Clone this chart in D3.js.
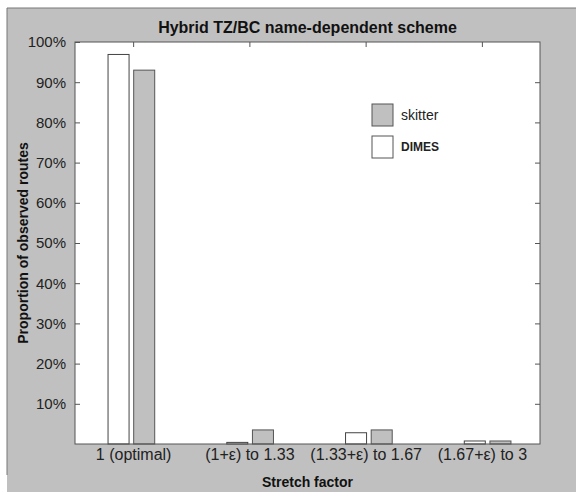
<!DOCTYPE html>
<html>
<head>
<meta charset="utf-8">
<script src="https://cdn.jsdelivr.net/npm/d3@7"></script>
<style>
  body { margin: 0; background: #fff; }
  text { font-family: Arial, "Liberation Sans", sans-serif; }
</style>
</head>
<body>
<svg id="chart" width="576" height="492"></svg>
<script>
const categories = ['1 (optimal)', '(1+\u03b5) to 1.33', '(1.33+\u03b5) to 1.67', '(1.67+\u03b5) to 3']
const skitter = [93.0, 3.5, 3.5, 0.75]
const dimes = [96.9, 0.4, 2.8, 0.75]
const yTickValues = [10, 20, 30, 40, 50, 60, 70, 80, 90, 100]

const svg = d3.select('#chart')
const plotLeft = 75, plotRight = 540, plotTop = 42, plotBottom = 444
const grey = '#c0c0c0'
const edge = '#555'

// figure background
svg.append('rect')
  .attr('x', 7).attr('y', 8).attr('width', 569).attr('height', 484)
  .attr('fill', grey)
svg.append('path')
  .attr('d', 'M7,475 V8 H576')
  .attr('fill', 'none').attr('stroke', '#777').attr('stroke-width', 1)

// plot area
svg.append('rect')
  .attr('x', plotLeft).attr('y', plotTop)
  .attr('width', plotRight - plotLeft).attr('height', plotBottom - plotTop)
  .attr('fill', '#fff')

const x = d3.scaleLinear().domain([0.5, 4.5]).range([plotLeft, plotRight])
// bars sit slightly off the tick positions in the original
const xBar = d3.scaleLinear().domain([0.5, 4.5]).range([72, 547])
const y = d3.scaleLinear().domain([0, 100]).range([plotBottom, plotTop])

const barW = xBar(1.177) - xBar(1)
const shift = xBar(1.108) - xBar(1)

svg.selectAll('rect.dimes')
  .data(dimes)
  .enter()
  .append('rect')
    .attr('class', 'dimes')
    .attr('x', (d, i) => xBar(i + 1) - shift - barW / 2)
    .attr('y', d => y(d))
    .attr('width', barW)
    .attr('height', d => y(0) - y(d))
    .attr('fill', '#fff')
    .attr('stroke', '#444')
    .attr('stroke-width', 1)

svg.selectAll('rect.skitter')
  .data(skitter)
  .enter()
  .append('rect')
    .attr('class', 'skitter')
    .attr('x', (d, i) => xBar(i + 1) + shift - barW / 2)
    .attr('y', d => y(d))
    .attr('width', barW)
    .attr('height', d => y(0) - y(d))
    .attr('fill', grey)
    .attr('stroke', '#555')
    .attr('stroke-width', 1)

// y axis (ticks point inward), labels on the left
const yAxis = d3.axisLeft(y)
  .tickValues(yTickValues)
  .tickSize(-5)
  .tickPadding(9)
  .tickFormat(d => d + '%')
const gy = svg.append('g')
  .attr('transform', `translate(${plotLeft}, 0)`)
  .call(yAxis)
gy.selectAll('text').style('font-size', '15px').attr('fill', '#222')

// right side ticks
svg.append('g')
  .attr('transform', `translate(${plotRight}, 0)`)
  .call(d3.axisRight(y).tickValues(yTickValues.slice(0, -1)).tickSize(-5).tickFormat(''))

// top ticks
svg.append('g')
  .attr('transform', `translate(0, ${plotTop})`)
  .call(d3.axisTop(x).tickValues([1, 2, 3, 4]).tickSize(-5).tickFormat(''))

// category labels
const gx = svg.append('g')
  .attr('transform', `translate(0, ${plotBottom})`)
  .call(d3.axisBottom(x).tickValues([1, 2, 3, 4]).tickSize(0).tickPadding(5)
    .tickFormat(d => categories[d - 1]))
gx.selectAll('text').style('font-size', '16px').attr('fill', '#222')

svg.selectAll('path.domain').style('stroke-width', 0)
svg.selectAll('.tick line').attr('stroke', edge)

// plot frame
svg.append('rect')
  .attr('x', plotLeft).attr('y', plotTop)
  .attr('width', plotRight - plotLeft).attr('height', plotBottom - plotTop)
  .attr('fill', 'none').attr('stroke', edge).attr('stroke-width', 1)

// titles
svg.append('text')
  .attr('x', (plotLeft + plotRight) / 2).attr('y', 33)
  .attr('text-anchor', 'middle')
  .style('font-size', '16px').style('font-weight', 'bold')
  .attr('fill', '#111')
  .text('Hybrid TZ/BC name-dependent scheme')

svg.append('text')
  .attr('x', (plotLeft + plotRight) / 2).attr('y', 487)
  .attr('text-anchor', 'middle')
  .style('font-size', '14px').style('font-weight', 'bold')
  .attr('fill', '#111')
  .text('Stretch factor')

svg.append('text')
  .attr('transform', `translate(28, ${(plotTop + plotBottom) / 2}) rotate(-90)`)
  .attr('text-anchor', 'middle')
  .style('font-size', '14px').style('font-weight', 'bold')
  .attr('fill', '#111')
  .text('Proportion of observed routes')

// legend
const legend = [
  { name: 'skitter', fill: grey, y: 104, weight: 'normal', size: '14px' },
  { name: 'DIMES', fill: '#fff', y: 136, weight: 'bold', size: '12px' }
]
const lg = svg.selectAll('g.legend')
  .data(legend)
  .enter()
  .append('g')
    .attr('class', 'legend')
    .attr('transform', d => `translate(372, ${d.y})`)
lg.append('rect')
  .attr('width', 21).attr('height', 22)
  .attr('fill', d => d.fill)
  .attr('stroke', '#555')
lg.append('text')
  .attr('x', 29).attr('y', 11)
  .attr('dy', '0.35em')
  .style('font-size', d => d.size)
  .style('font-weight', d => d.weight)
  .attr('fill', '#222')
  .text(d => d.name)
</script>
</body>
</html>
